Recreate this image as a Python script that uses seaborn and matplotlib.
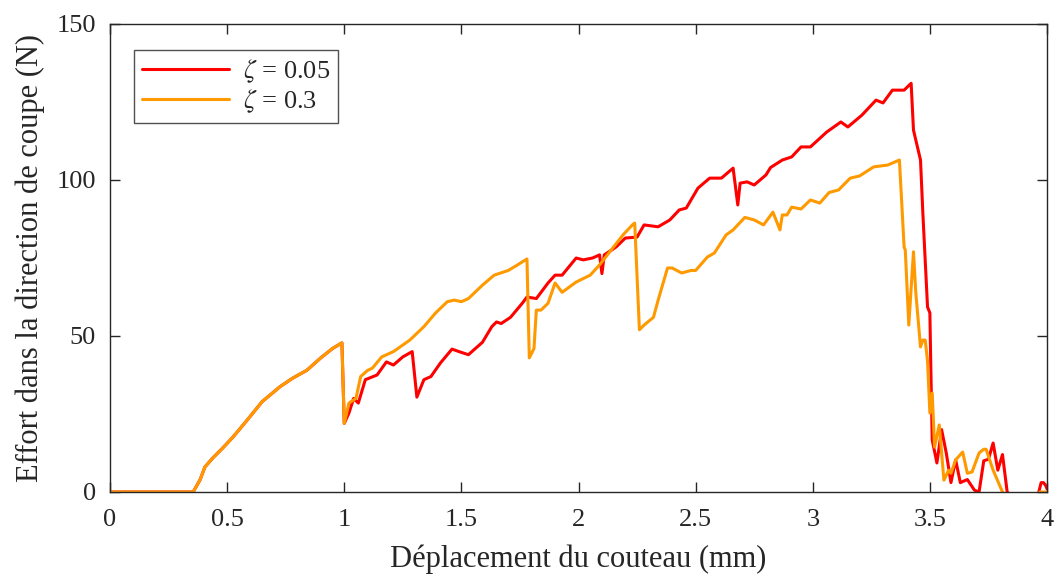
import numpy as np
import pandas as pd
import matplotlib
matplotlib.use("Agg")
import matplotlib.pyplot as plt
import seaborn as sns

# ---- data ----
x_rise = [0.0, 0.355, 0.385, 0.405, 0.44, 0.48, 0.525, 0.585, 0.65, 0.725, 0.78, 0.84, 0.90, 0.95, 0.99]
y_rise = [0.0, 0.0, 4.0, 8.0, 11.0, 14.0, 17.6, 23.0, 29.0, 33.7, 36.5, 39.0, 43.0, 46.0, 47.8]

x_red = x_rise + [1.0, 1.02, 1.04, 1.06, 1.09, 1.14, 1.18, 1.21, 1.25, 1.29, 1.31, 1.34, 1.37, 1.41,
                  1.46, 1.49, 1.53, 1.59, 1.63, 1.65, 1.67, 1.71, 1.76, 1.78, 1.82, 1.87, 1.90, 1.93,
                  1.99, 2.02, 2.06, 2.09, 2.10, 2.11, 2.16, 2.20, 2.25, 2.28, 2.34, 2.39, 2.43, 2.46,
                  2.51, 2.56, 2.61, 2.66, 2.68, 2.69, 2.72, 2.75, 2.80, 2.82, 2.87, 2.91, 2.95, 2.99,
                  3.06, 3.12, 3.15, 3.21, 3.27, 3.30, 3.34, 3.39, 3.42, 3.43, 3.46, 3.47, 3.49, 3.50,
                  3.505, 3.51, 3.53, 3.55, 3.57, 3.59, 3.61, 3.63, 3.66, 3.69, 3.71, 3.73, 3.75, 3.77,
                  3.79, 3.81, 3.83, 3.85, 3.96, 3.975, 3.985, 3.995, 4.0]
y_red = y_rise + [22.0, 25.3, 30.0, 28.5, 36.0, 37.5, 41.7, 40.7, 43.3, 45.0, 30.4, 36.0, 37.0, 41.3,
                  45.8, 45.0, 44.0, 48.0, 53.0, 54.5, 54.0, 56.0, 60.5, 62.5, 62.0, 67.0, 69.5, 69.5,
                  75.0, 74.4, 75.0, 76.0, 70.0, 76.0, 78.5, 81.4, 81.7, 85.6, 85.0, 87.2, 90.4, 91.0,
                  97.4, 100.6, 100.6, 103.8, 92.0, 99.0, 99.4, 98.4, 101.6, 104.0, 106.4, 107.4, 110.6, 110.6,
                  115.4, 118.6, 117.0, 120.8, 125.6, 124.7, 128.8, 128.8, 131.0, 116.0, 106.4, 89.4, 59.3, 57.4,
                  36.0, 16.7, 9.3, 20.0, 12.5, 3.0, 10.3, 3.0, 4.0, 0.6, 0.0, 10.0, 10.5, 15.7,
                  7.0, 12.0, 0.0, -1.5, -1.5, 3.0, 3.0, 2.0, 1.0]

x_orange = x_rise + [1.0, 1.02, 1.05, 1.07, 1.10, 1.12, 1.16, 1.21, 1.28, 1.34, 1.39, 1.44, 1.47, 1.50,
                     1.53, 1.59, 1.64, 1.70, 1.74, 1.78, 1.79, 1.81, 1.82, 1.84, 1.87, 1.90, 1.93, 1.99,
                     2.05, 2.09, 2.14, 2.19, 2.23, 2.24, 2.26, 2.28, 2.32, 2.34, 2.38, 2.40, 2.44, 2.48,
                     2.50, 2.55, 2.58, 2.63, 2.66, 2.71, 2.75, 2.79, 2.83, 2.86, 2.87, 2.89, 2.91, 2.95,
                     2.99, 3.03, 3.07, 3.11, 3.16, 3.20, 3.26, 3.32, 3.37, 3.39, 3.395, 3.41, 3.43, 3.44,
                     3.46, 3.47, 3.48, 3.49, 3.50, 3.51, 3.52, 3.54, 3.56, 3.58, 3.59, 3.61, 3.64, 3.66,
                     3.68, 3.71, 3.73, 3.74, 3.77, 3.81, 3.83, 3.95, 3.97, 4.0]
y_orange = y_rise + [22.0, 28.5, 30.0, 37.0, 39.0, 39.7, 43.3, 45.0, 48.7, 53.0, 57.4, 61.0, 61.5, 61.0,
                     62.0, 66.3, 69.5, 71.0, 72.8, 74.7, 43.0, 46.0, 58.3, 58.3, 60.5, 67.0, 64.0, 67.3,
                     69.5, 72.8, 77.6, 82.4, 85.6, 86.2, 52.0, 53.5, 56.0, 61.5, 71.8, 71.8, 70.2, 71.0,
                     71.0, 75.3, 76.6, 82.4, 84.0, 88.0, 87.2, 85.6, 89.7, 84.0, 88.8, 88.8, 91.3, 90.7,
                     93.6, 92.6, 96.0, 96.8, 100.6, 101.3, 104.2, 104.8, 106.4, 78.5, 77.6, 53.5, 77.0, 63.8,
                     46.5, 48.7, 48.7, 42.0, 25.3, 31.7, 14.4, 21.5, 3.8, 7.0, 6.0, 10.3, 12.8, 6.0,
                     6.4, 12.5, 13.7, 13.7, 7.0, 0.0, -1.5, -1.5, 0.0, 0.0]

series_labels = [r"$\zeta$ = 0.05", r"$\zeta$ = 0.3"]
series_colors = ["#FF0000", "#FF9900"]

xticks = [0, 0.5, 1, 1.5, 2, 2.5, 3, 3.5, 4]
xtick_labels = ["0", "0.5", "1", "1.5", "2", "2.5", "3", "3.5", "4"]
yticks = [0, 50, 100, 150]

xlabel = "Déplacement du couteau (mm)"
ylabel = "Effort dans la direction de coupe (N)"

# ---- build long table ----
df = pd.concat([
    pd.DataFrame({"x": x_red, "y": y_red, "serie": series_labels[0]}),
    pd.DataFrame({"x": x_orange, "y": y_orange, "serie": series_labels[1]}),
])

sns.set_theme(style="white")
plt.rcParams["font.family"] = ["Liberation Serif", "DejaVu Serif"]
plt.rcParams["mathtext.fontset"] = "stix"

fig = plt.figure(figsize=(10.6, 5.83), dpi=100)
ax = fig.add_axes([110 / 1060, 1 - 492 / 583, (1047 - 110) / 1060, (492 - 24) / 583])

sns.lineplot(data=df, x="x", y="y", hue="serie", palette=dict(zip(series_labels, series_colors)),
             hue_order=series_labels, sort=False, estimator=None,
             linewidth=2.2, ax=ax, legend=True)

ax.set_xlim(0, 4)
ax.set_ylim(0, 150)
ax.set_xticks(xticks)
ax.set_xticklabels(xtick_labels)
ax.set_yticks(yticks)
ax.set_xlabel(xlabel, fontsize=22, color="#262626", labelpad=10)
ax.set_ylabel(ylabel, fontsize=22, color="#262626", labelpad=8)

for s in ax.spines.values():
    s.set_visible(True)
    s.set_color("#262626")
    s.set_linewidth(1.0)
ax.tick_params(axis="both", which="both", direction="in", length=7, width=1.0,
               top=True, right=True, bottom=True, left=True, labelsize=19,
               colors="#262626")
ax.tick_params(axis="x", pad=12)
ax.tick_params(axis="y", pad=10)

leg = ax.legend(loc="upper left", bbox_to_anchor=(0.026, 0.945), fontsize=19, frameon=True,
                fancybox=False, edgecolor="#262626", handlelength=3.3, handletextpad=0.5,
                borderpad=0.3, labelspacing=0.1, borderaxespad=0.0)
leg.get_frame().set_linewidth(1.0)
for line in leg.get_lines():
    line.set_linewidth(2.2)

fig.savefig("out.png", dpi=100)
